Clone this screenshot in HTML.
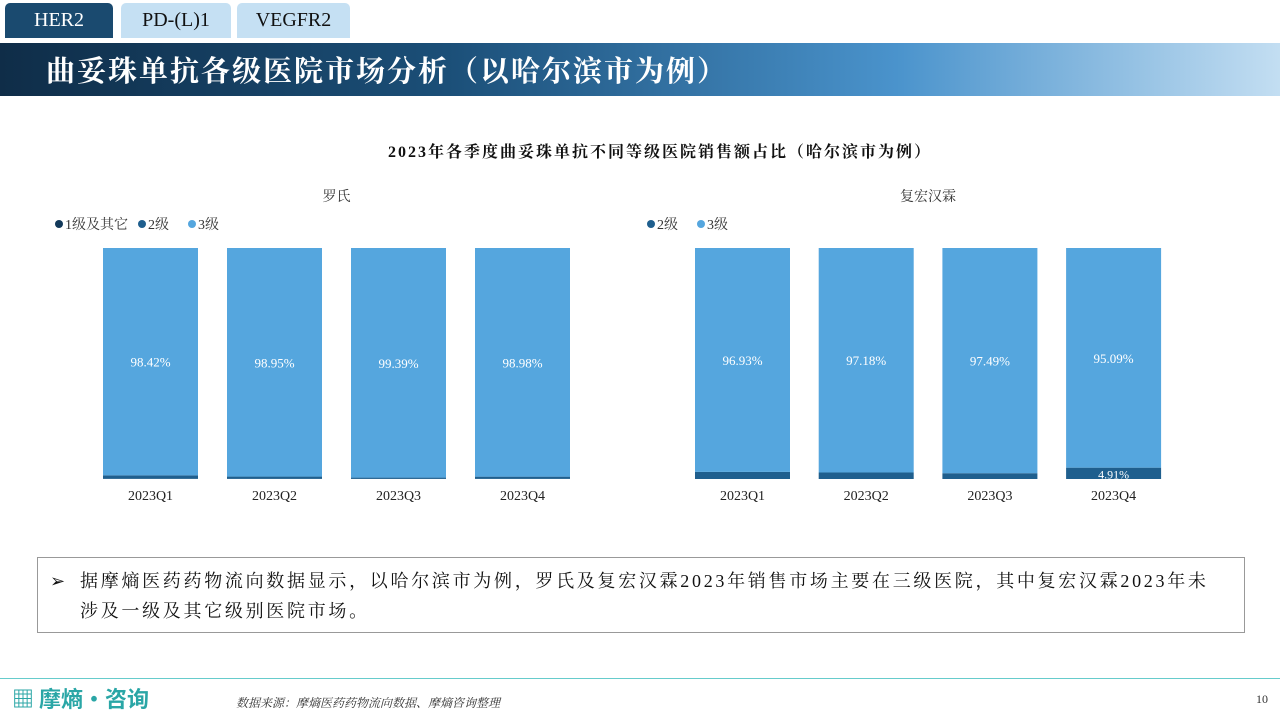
<!DOCTYPE html>
<html><head><meta charset="utf-8">
<style>
body{margin:0;width:1280px;height:720px;position:relative;overflow:hidden;background:#fff;font-family:"Liberation Serif","Noto Serif CJK SC",serif;}
.tab{position:absolute;top:3px;height:35px;border-radius:5px 5px 0 0;font-size:20px;text-align:center;line-height:35px;}
#banner{position:absolute;left:0;top:43px;width:1280px;height:53px;background:linear-gradient(90deg,#0f2d48 0%,#1b4f78 35%,#4a93cc 70%,#c3def2 100%);}
#banner span{position:absolute;left:46px;top:6px;color:#fff;font-size:29px;letter-spacing:2px;font-family:"Noto Serif CJK SC",serif;font-weight:bold;}
#note{position:absolute;left:37px;top:557px;width:1208px;height:76px;border:1px solid #999;box-sizing:border-box;font-size:18px;letter-spacing:2.7px;line-height:30px;padding:8px 4px 0 42px;color:#111;font-family:"Liberation Serif","Noto Serif CJK SC",serif;white-space:nowrap;}
</style></head><body>
<div class="tab" style="left:5px;width:108px;background:#1a4a6f;color:#fff;">HER2</div>
<div class="tab" style="left:121px;width:110px;background:#c5e0f3;color:#111;">PD-(L)1</div>
<div class="tab" style="left:237px;width:113px;background:#c5e0f3;color:#111;">VEGFR2</div>
<div id="banner"><span>曲妥珠单抗各级医院市场分析（以哈尔滨市为例）</span></div>
<svg id="chart" width="1280" height="720" style="position:absolute;left:0;top:0"></svg>
<div id="note"><span style="position:absolute;left:12px;top:8px;">➢</span>据摩熵医药药物流向数据显示，以哈尔滨市为例，罗氏及复宏汉霖2023年销售市场主要在三级医院，其中复宏汉霖2023年未<br>涉及一级及其它级别医院市场。</div>
<div style="position:absolute;left:12px;top:682px;font-size:22px;color:#2aa6a6;font-family:'Noto Sans CJK SC',sans-serif;font-weight:bold;">▦ 摩熵·咨询</div>
<div style="position:absolute;left:0;top:678px;width:1280px;height:1px;background:#6cc;"></div>
<div style="position:absolute;left:236px;top:694px;font-size:12px;font-style:italic;color:#333;">数据来源：摩熵医药药物流向数据、摩熵咨询整理</div>
<div style="position:absolute;left:1256px;top:692px;font-size:12px;color:#333;">10</div>
<script>
const categories=["2023Q1","2023Q2","2023Q3","2023Q4"];
const rocheL1=[0.08,0.05,0.04,0.05];
const rocheL2=[1.50,1.00,0.57,0.97];
const rocheL3=[98.42,98.95,99.39,98.98];
const henliusL2=[3.07,2.82,2.51,4.91];
const henliusL3=[96.93,97.18,97.49,95.09];
const C1="#12395a",C2="#1f5f8e",C3="#55a6de";
const svg=document.getElementById('chart');const NS="http://www.w3.org/2000/svg";
function el(t,a,txt){const e=document.createElementNS(NS,t);for(const k in a)e.setAttribute(k,a[k]);if(txt!=null)e.textContent=txt;svg.appendChild(e);return e;}
let t=el('text',{x:660,y:157,'text-anchor':'middle','font-size':16,'letter-spacing':'2','font-weight':'bold',fill:'#111'},'2023年各季度曲妥珠单抗不同等级医院销售额占比（哈尔滨市为例）');


function panel(x0,step,name,title,legend,series,colors,labelIdx){
  const top=248,bot=479,h=bot-top,bw=95;
  const y=v=>h*v/100;
  let tt=el('text',{x:x0+step*1.5+bw/2,y:201,'text-anchor':'middle','font-size':14,fill:'#333'},title);
  
  
  let lx=x0-48;
  legend.forEach((l,i)=>{
    const c=el('circle',{cx:lx+4,cy:224,r:4,fill:l[1]});
    
    
    const tx=el('text',{x:lx+10,y:229,'font-size':14,fill:'#333'},l[0]);
    
    
    lx+=10+l[0].length*13+(l[0].length>3?8:14);
  });
  categories.forEach((c,i)=>{
    const x=x0+i*step;let yb=bot;
    series.forEach((s,k)=>{
      const hh=y(s[i]);
      const r=el('rect',{x:x,y:yb-hh,width:bw,height:hh,fill:colors[k]});
      
      
      if(k===labelIdx||(s[i]>4&&k!==labelIdx)){
        const lt=el('text',{x:x+bw/2,y:yb-hh/2+5,'text-anchor':'middle','font-size':k===labelIdx?13:12,fill:'#fff'},s[i].toFixed(2)+'%');
        
        
      }
      yb-=hh;
    });
    const ct=el('text',{x:x+bw/2,y:500,'text-anchor':'middle','font-size':14,fill:'#222'},c);
    
    
  });
}
panel(103,124,'roche','罗氏',[['1级及其它',C1],['2级',C2],['3级',C3]],[rocheL1,rocheL2,rocheL3],[C1,C2,C3],2);
panel(695,123.7,'henlius','复宏汉霖',[['2级',C2],['3级',C3]],[henliusL2,henliusL3],[C2,C3],1);
</script>
</body></html>
